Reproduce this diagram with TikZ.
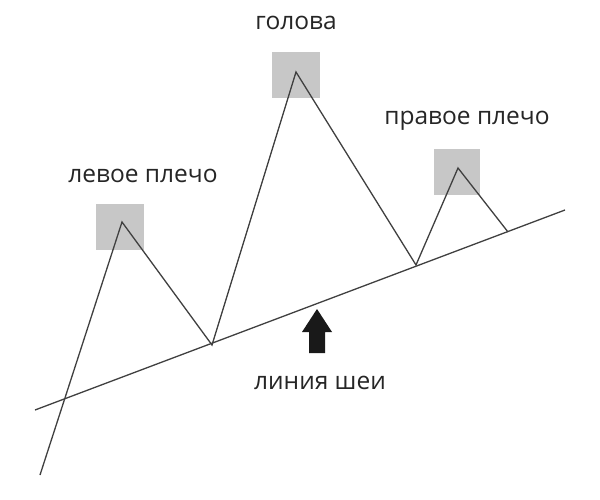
\documentclass[tikz,border=0pt]{standalone}
\usepackage{fontspec}
\setmainfont{Open Sans}
\begin{document}
\begin{tikzpicture}[x=1pt,y=-1pt,
  lbl/.style={font=\fontsize{24.5}{28}\selectfont, text=black!85},
  sq/.style={fill=black!22, draw=none},
  ln/.style={draw=black!75, line width=1.3pt}]
\useasboundingbox (0,0) rectangle (600,500);
\fill[white] (0,0) rectangle (600,500);
\fill[sq] (96,204) rectangle (144,250);
\fill[sq] (272,52) rectangle (320,98);
\fill[sq] (434,149) rectangle (480,195);
\coordinate (n1) at (35,410);
\coordinate (n2) at (565,210);
\draw[ln] (n1) -- (n2);
\coordinate (p0) at (40,475);
\coordinate (p1) at (122,222);
\coordinate (p2) at (212,345);
\coordinate (p3) at (296,72);
\coordinate (p4) at (416,265);
\coordinate (p5) at (458,168);
\coordinate (p6) at (508,232);
\draw[ln, line join=miter] (p0) -- (p1) -- (p2) -- (p3) -- (p4) -- (p5) -- (p6);
\fill[black!90] (309,353) -- (309,332) -- (302,332) -- (317,309) -- (332,332) -- (325,332) -- (325,353) -- cycle;
\node[lbl] (ls) at (143,176) {левое плечо};
\node[lbl] (hd) at (296,23) {голова};
\node[lbl] (rs) at (467,121) {правое плечо};
\node[lbl] (nk) at (320,383) {линия шеи};
\end{tikzpicture}
\end{document}
